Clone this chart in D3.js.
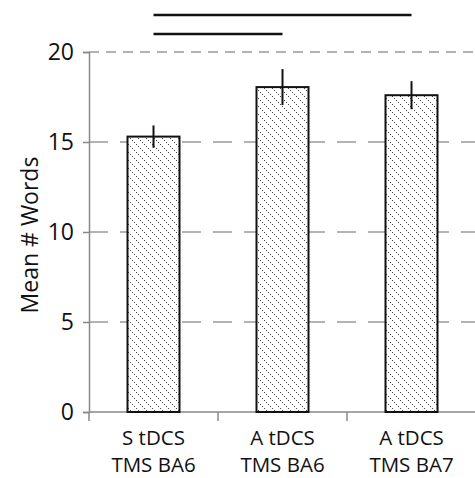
<!DOCTYPE html>
<html>
<head>
<meta charset="utf-8">
<script src="https://cdn.jsdelivr.net/npm/d3@7"></script>
<style>
  body { margin: 0; background: #fff; }
  text { font-family: "Open Sans", sans-serif; fill: #111; }
</style>
</head>
<body>
<script>
const WIDTH = 475;
const HEIGHT = 478;

// data
const categories = [["S tDCS", "TMS BA6"], ["A tDCS", "TMS BA6"], ["A tDCS", "TMS BA7"]];
const means      = [15.3, 18.05, 17.6];
const errors     = [0.62, 1.0, 0.78];
const yTicks     = [0, 5, 10, 15, 20];
// significance bars: [from index, to index, height]
const sigLines   = [[0, 2, 22.05], [0, 1, 21.0]];

const svg = d3.select("body").append("svg")
  .attr("width", WIDTH)
  .attr("height", HEIGHT);

// hatch pattern: dotted diagonals running down to the right
const defs = svg.append("defs");
const pat = defs.append("pattern")
  .attr("id", "hatch")
  .attr("patternUnits", "userSpaceOnUse")
  .attr("width", 8)
  .attr("height", 8);
pat.append("rect").attr("width", 8).attr("height", 8).attr("fill", "white");
pat.selectAll(".dot")
  .data([0, 2, 4, 6])
  .enter().append("rect")
    .attr("x", d => d).attr("y", d => d)
    .attr("width", 1).attr("height", 1)
    .attr("fill", "#444");

const xScale = d3.scaleBand()
  .domain(d3.range(categories.length))
  .range([89, 476])
  .paddingInner(0).paddingOuter(0);

const yScale = d3.scaleLinear().domain([0, 20]).range([412, 52]);

// gridlines (top one has a shorter dash)
svg.append("g").selectAll("line")
  .data(yTicks.filter(d => d > 0))
  .enter().append("line")
    .attr("x1", 89).attr("x2", WIDTH)
    .attr("y1", d => yScale(d)).attr("y2", d => yScale(d))
    .attr("stroke", "#9a9a9a")
    .attr("stroke-width", 1.5)
    .attr("stroke-dasharray", d => d === 20 ? "10,7" : "19,12");

// y axis
const yAxis = d3.axisLeft(yScale).tickValues(yTicks).tickSize(6).tickPadding(9);
const gy = svg.append("g")
  .attr("transform", "translate(89,0)")
  .call(yAxis);
gy.select(".domain").attr("stroke", "#888").attr("stroke-width", 1.5);
gy.selectAll(".tick line").attr("stroke", "#888").attr("stroke-width", 1.5);
gy.selectAll(".tick text").style("font-size", "23px").style("font-family", "'Open Sans', sans-serif")
  .attr("fill", "#111").attr("dy", "0.34em");

// x axis
const gx = svg.append("g").attr("transform", "translate(0,412)");
gx.append("line").attr("x1", 89).attr("x2", 476)
  .attr("stroke", "#888").attr("stroke-width", 1.5);
gx.selectAll(".xt")
  .data(d3.range(categories.length + 1))
  .enter().append("line")
    .attr("x1", i => 89 + i * xScale.bandwidth())
    .attr("x2", i => 89 + i * xScale.bandwidth())
    .attr("y1", 0).attr("y2", 9)
    .attr("stroke", "#888").attr("stroke-width", 1.5);

const labels = svg.append("g").selectAll("text")
  .data(categories)
  .enter().append("text")
    .attr("text-anchor", "middle")
    .style("font-size", "20.5px")
    .attr("transform", (d, i) => "translate(" + (xScale(i) + xScale.bandwidth() / 2) + ",0)");
labels.append("tspan").attr("x", 0).attr("y", 445).text(d => d[0]);
labels.append("tspan").attr("x", 0).attr("y", 472).text(d => d[1]);

// y label
svg.append("text")
  .attr("transform", "translate(38,235) rotate(-90)")
  .attr("text-anchor", "middle")
  .style("font-size", "23px")
  .text("Mean # Words");

// bars
const barW = 52;
const cx = i => xScale(i) + xScale.bandwidth() / 2;
svg.append("g").selectAll("rect")
  .data(means)
  .enter().append("rect")
    .attr("x", (d, i) => cx(i) - barW / 2)
    .attr("y", d => yScale(d))
    .attr("width", barW)
    .attr("height", d => yScale(0) - yScale(d))
    .attr("fill", "url(#hatch)")
    .attr("stroke", "#111")
    .attr("stroke-width", 2);

// error bars
svg.append("g").selectAll("line")
  .data(means)
  .enter().append("line")
    .attr("x1", (d, i) => cx(i)).attr("x2", (d, i) => cx(i))
    .attr("y1", (d, i) => yScale(d + errors[i]))
    .attr("y2", (d, i) => yScale(d - errors[i]))
    .attr("stroke", "#111")
    .attr("stroke-width", 2);

// significance lines
svg.append("g").selectAll("line")
  .data(sigLines)
  .enter().append("line")
    .attr("x1", d => cx(d[0])).attr("x2", d => cx(d[1]))
    .attr("y1", d => yScale(d[2])).attr("y2", d => yScale(d[2]))
    .attr("stroke", "#111")
    .attr("stroke-width", 2.5);
</script>
</body>
</html>
